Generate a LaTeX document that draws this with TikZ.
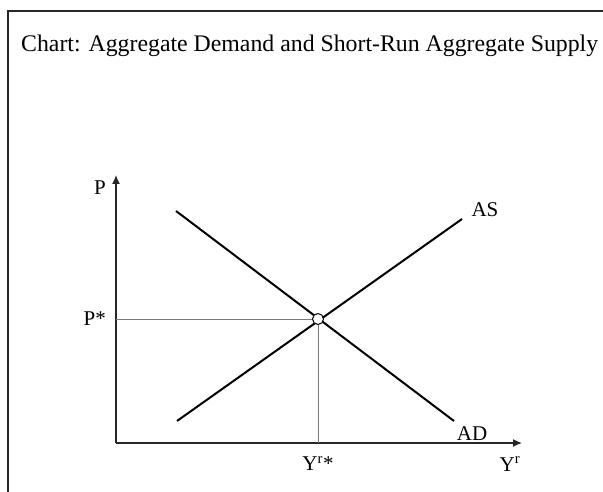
\documentclass[tikz,border=0pt]{standalone}
\usepackage{fontspec}
\setmainfont{Liberation Serif}
\usetikzlibrary{positioning, arrows.meta}
\definecolor{curveColor}{HTML}{000000}
\definecolor{axisColor}{HTML}{262626}
\definecolor{guideColor}{HTML}{7A7A7A}

\begin{document}
\begin{tikzpicture}[
    x=1pt, y=-1pt,
    every node/.style={font=\fontsize{21}{24}\selectfont, inner sep=0pt},
    frame/.style={
        draw=axisColor,
        line width=1.3pt,
    },
    axis/.style={
        -{Latex[length=9pt, width=8pt]},
        draw=axisColor,
        line width=1.4pt,
    },
    curve/.style={
        draw=curveColor,
        line width=2pt,
    },
    guide/.style={
        draw=guideColor,
        line width=1pt,
    },
    eqpoint/.style={
        circle,
        draw=curveColor,
        fill=white,
        line width=1pt,
        minimum size=11pt,
    },
    title/.style={
        font=\fontsize{23.8}{28}\selectfont,
        anchor=base west,
    },
]
\useasboundingbox (0,0) rectangle (603,492);

% ===== Marco =====
\coordinate (frameTL) at (8,11);
\coordinate (frameTR) at (603,11);
\coordinate (frameBL) at (8,492);
\draw[frame] (frameBL) -- (frameTL) -- (frameTR);

\node[title] (title) at (21,52) {Chart: Aggregate Demand and Short-Run Aggregate Supply};

% ===== Ejes =====
\coordinate (origin) at (116,443);
\coordinate (ytop) at (116,175);
\coordinate (xend) at (522,443);
\draw[axis] (origin) -- (ytop);
\draw[axis] (origin) -- (xend);

% ===== Curvas AD y AS =====
\coordinate (adStart) at (176,211);
\coordinate (adEnd) at (454,421);
\coordinate (asStart) at (177,421);
\coordinate (asEnd) at (462,219);
\draw[curve] (adStart) -- (adEnd);
\draw[curve] (asStart) -- (asEnd);

% ===== Equilibrio =====
\coordinate (pstar) at (116,319);
\coordinate (ystar) at (318,443);
\node[eqpoint] (eq) at (318,319) {};
\draw[guide] (pstar) -- (eq.west);
\draw[guide] (eq.south) -- (ystar);

% ===== Etiquetas =====
\node[left=10pt of ytop, yshift=-13pt] (plabel) {P};
\node[left=10pt of pstar] (pstarlabel) {P*};
\node (aslabel) at (485,210) {AS};
\node (adlabel) at (472,434) {AD};
\node[below=13pt of ystar] (ystarlabel) {Y\textsuperscript{r}*};
\node (ylabel) at (510,464) {Y\textsuperscript{r}};

\end{tikzpicture}
\end{document}
